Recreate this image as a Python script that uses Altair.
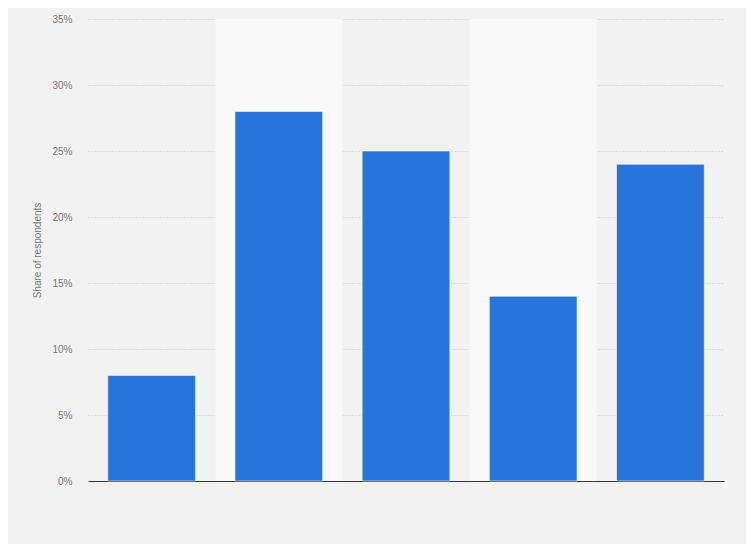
import altair as alt
import pandas as pd

categories = ["A", "B", "C", "D", "E"]
values = [8, 28, 25, 14, 24]
light_band = [False, True, False, True, False]

df = pd.DataFrame({
    "cat": categories,
    "share": [v / 100 for v in values],
    "light": light_band,
    "top": [0.35] * len(categories),
})

x = alt.X("cat:N", sort=categories,
          scale=alt.Scale(paddingInner=0, paddingOuter=0),
          axis=alt.Axis(labels=False, ticks=False, title=None, domain=True,
                        domainColor="#333333", domainWidth=1.2, grid=False))

yaxis = alt.Axis(format="%", values=[0, 0.05, 0.1, 0.15, 0.2, 0.25, 0.3, 0.35],
                 title="Share of respondents", titleFontWeight="normal",
                 titleFontSize=10, titleColor="#777777", titlePadding=9,
                 labelFontSize=10, labelColor="#777777", labelPadding=16,
                 ticks=False, domain=False, grid=True,
                 gridColor="#c8c8c8", gridDash=[1, 2], gridWidth=1)

bands = alt.Chart(df).transform_filter("datum.light").mark_bar(
    width={"band": 1}, color="#f8f8f8", strokeWidth=0
).encode(
    x=x,
    y=alt.Y("top:Q", scale=alt.Scale(domain=[0, 0.35]), axis=yaxis),
)

bars = alt.Chart(df).mark_bar(
    width={"band": 0.69}, color="#2775db", stroke="#ffffff", strokeOpacity=0.6, strokeWidth=1
).encode(
    x=x,
    y=alt.Y("share:Q", scale=alt.Scale(domain=[0, 0.35]), axis=yaxis),
)

chart = alt.layer(bands, bars).properties(
    width=636, height=462,
    background="#f2f2f2",
    padding={"left": 80, "top": 11, "right": 22, "bottom": 63},
    autosize=alt.AutoSizeParams(type="none"),
).configure(font="Liberation Sans").configure_view(stroke=None, strokeWidth=0)

chart.save("out.html", embed_options={"renderer": "svg", "actions": False})
